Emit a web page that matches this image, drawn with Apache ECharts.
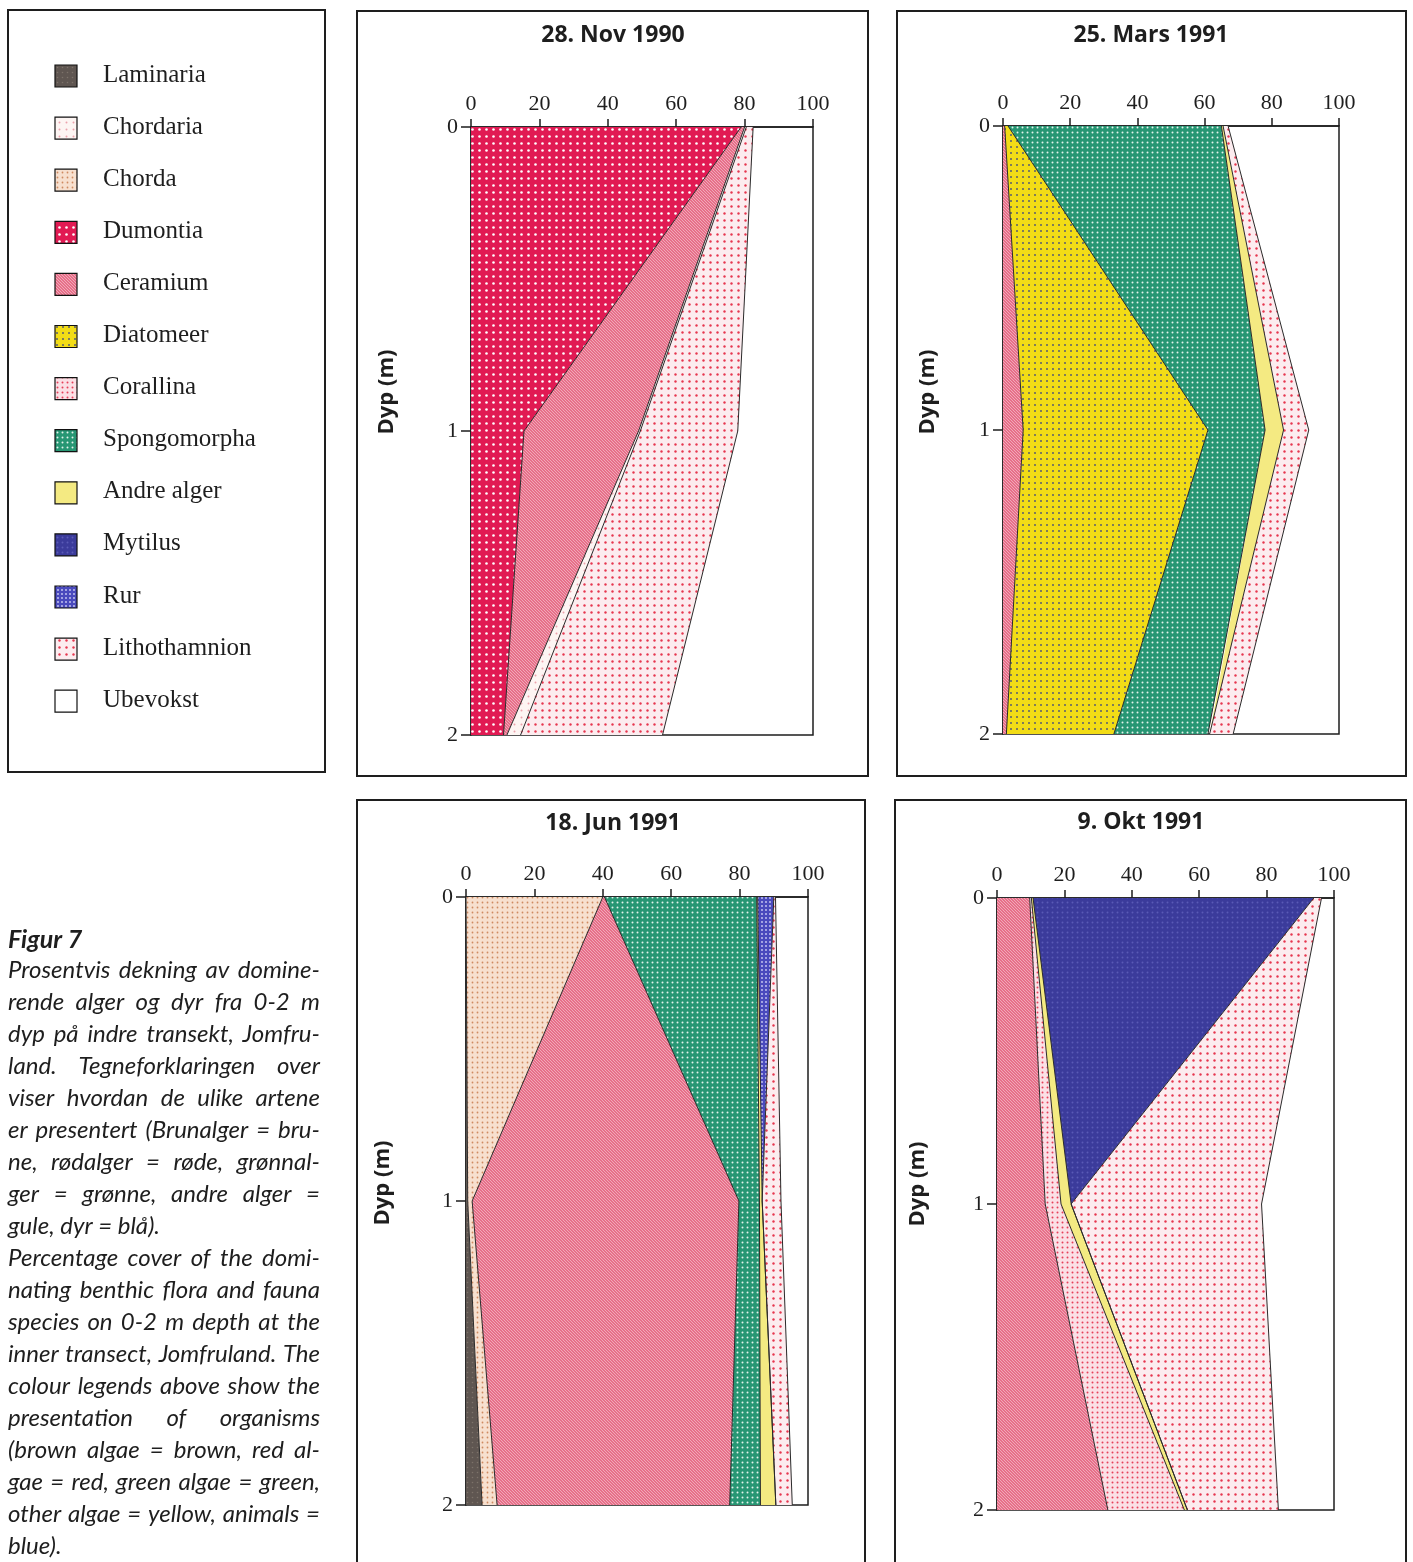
<!DOCTYPE html>
<html>
<head>
<meta charset="utf-8">
<title>Figur 7 - Jomfruland</title>
<script src="https://cdn.jsdelivr.net/npm/echarts@6/dist/echarts.min.js"></script>
<style>
  html, body { margin: 0; padding: 0; background: #fff; }
  #chart { width: 1413px; height: 1562px; }
</style>
</head>
<body>
<div id="chart"></div>
<script>
// ---- data ----
var depths = ['0', '1', '2'];           // dyp (m), y-akse
var panelTitles = ['28. Nov 1990', '25. Mars 1991', '18. Jun 1991', '9. Okt 1991'];

var species = ['Laminaria', 'Chordaria', 'Chorda', 'Dumontia', 'Ceramium', 'Diatomeer',
  'Corallina', 'Spongomorpha', 'Andre alger', 'Mytilus', 'Rur', 'Lithothamnion', 'Ubevokst'];

// dekning (%) per art ved 0, 1 og 2 m, stablet fra venstre
var novNames = ['Dumontia', 'Ceramium', 'Chordaria', 'Lithothamnion'];
var novCover = [[79, 15.5, 9.5], [1, 33.5, 1], [0.5, 0.5, 4], [2, 28.5, 41.5]];

var marNames = ['Ceramium', 'Diatomeer', 'Spongomorpha', 'Andre alger', 'Lithothamnion'];
var marCover = [[0.5, 6, 1], [1, 55, 32], [63.5, 17, 28], [0.5, 5.5, 0.5], [1.5, 7.5, 7]];

var junNames = ['Laminaria', 'Chorda', 'Ceramium', 'Spongomorpha', 'Andre alger', 'Rur', 'Lithothamnion'];
var junCover = [[0, 0.5, 4.7], [40, 1.3, 4.4], [0.5, 78, 68], [44.5, 6, 9], [0.3, 0.8, 4.5], [4.7, 0, 0], [0.5, 5.5, 4.8]];

var oktNames = ['Ceramium', 'Corallina', 'Andre alger', 'Mytilus', 'Lithothamnion'];
var oktCover = [[9.7, 14.3, 32.9], [0.5, 4.7, 22.7], [0.5, 3, 0.9], [83.3, 0, 0], [2.3, 56.5, 27]];

var captionNo = [
  'Prosentvis dekning av domine-',
  'rende alger og dyr fra 0-2 m',
  'dyp på indre transekt, Jomfru-',
  'land. Tegneforklaringen over',
  'viser hvordan de ulike artene',
  'er presentert (Brunalger = bru-',
  'ne, rødalger = røde, grønnal-',
  'ger = grønne, andre alger =',
  'gule, dyr = blå).'
];
var captionEn = [
  'Percentage cover of the domi-',
  'nating benthic flora and fauna',
  'species on 0-2 m depth at the',
  'inner transect, Jomfruland. The',
  'colour legends above show the',
  'presentation of organisms',
  '(brown algae = brown, red al-',
  'gae = red, green algae = green,',
  'other algae = yellow, animals =',
  'blue).'
];

// ---- fill patterns ----
var speciesStyle = {
  'Laminaria':     { bg: '#5f5651', dot: '#7d726a', step: 5, r: 0.8 },
  'Chordaria':     { bg: '#fdf5f3', dot: '#eba2ab', step: 7, r: 1 },
  'Chorda':        { bg: '#f7e0cf', dot: '#cf8a60', step: 5, r: 0.9 },
  'Dumontia':      { bg: '#e11a53', dot: '#ffffff', step: 7, r: 1.3 },
  'Ceramium':      { bg: '#e76f89', hatch: '#f3b9c5', step: 3 },
  'Diatomeer':     { bg: '#f2dc16', dot: '#575c70', step: 6, r: 1 },
  'Corallina':     { bg: '#fbe0e6', dot: '#e6405a', step: 5, r: 1 },
  'Spongomorpha':  { bg: '#279673', dot: '#e4f3ec', step: 5, r: 1 },
  'Andre alger':   { bg: '#f4ea82' },
  'Mytilus':       { bg: '#3b3b9b', dot: '#5a5ab6', step: 5, r: 1 },
  'Rur':           { bg: '#4a4abd', dot: '#cfcff5', step: 4, r: 0.9 },
  'Lithothamnion': { bg: '#fcecef', dot: '#e6374f', step: 7, r: 1.2 },
  'Ubevokst':      { bg: '#ffffff' }
};

function makeTile(st) {
  var s = st.step || 4;
  var c = document.createElement('canvas');
  c.width = s; c.height = s;
  var g = c.getContext('2d');
  g.fillStyle = st.bg;
  g.fillRect(0, 0, s, s);
  if (st.dot) {
    g.fillStyle = st.dot;
    g.beginPath();
    g.arc(s / 2, s / 2, st.r, 0, Math.PI * 2);
    g.fill();
  }
  if (st.hatch) {
    g.strokeStyle = st.hatch;
    g.lineWidth = 0.8;
    g.beginPath();
    g.moveTo(-1, -1); g.lineTo(s + 1, s + 1);
    g.moveTo(-1, s - 1); g.lineTo(1, s + 1);
    g.moveTo(s - 1, -1); g.lineTo(s + 1, 1);
    g.stroke();
  }
  return c;
}
var patterns = {};
species.forEach(function (n) {
  patterns[n] = { image: makeTile(speciesStyle[n]), repeat: 'repeat' };
});

// ---- layout ----
var grids = [
  { left: 471, top: 127, width: 342, height: 608 },
  { left: 1003, top: 126, width: 336, height: 608 },
  { left: 466, top: 897, width: 342, height: 608 },
  { left: 997, top: 898, width: 337, height: 612 }
];
var ink = '#1e1e1e';
var serif = '"Liberation Serif", "DejaVu Serif", serif';
var sans = '"Open Sans", "Noto Sans", sans-serif';
var capFamily = 'Lato, "Open Sans", sans-serif';

function panelSeries(names, cover, gi) {
  return names.map(function (name, k) {
    return {
      type: 'line',
      name: name,
      xAxisIndex: gi,
      yAxisIndex: gi,
      stack: 'panel' + gi,
      data: cover[k],
      symbol: 'none',
      silent: true,
      lineStyle: { color: '#2a2a2a', width: 1 },
      itemStyle: { color: speciesStyle[name].bg },
      areaStyle: { color: patterns[name], opacity: 1 }
    };
  });
}

var series = [].concat(
  panelSeries(novNames, novCover, 0),
  panelSeries(marNames, marCover, 1),
  panelSeries(junNames, junCover, 2),
  panelSeries(oktNames, oktCover, 3)
);

// ---- graphic: frames, titles, legend, caption ----
var graphic = [];
function frame(x, y, w, h) {
  graphic.push({ type: 'rect', shape: { x: x, y: y, width: w, height: h },
    style: { fill: 'none', stroke: ink, lineWidth: 2 }, silent: true });
}
frame(8, 10, 317, 762);
frame(357, 11, 511, 765);
frame(897, 11, 509, 765);
frame(357, 800, 508, 790);
frame(895, 800, 511, 790);

var titlePos = [[613, 35], [1151, 35], [613, 823], [1141, 822]];
panelTitles.forEach(function (t, i) {
  graphic.push({ type: 'text', x: titlePos[i][0], y: titlePos[i][1], silent: true,
    style: { text: t, fill: ink, font: 'bold 23px ' + sans,
      align: 'center', verticalAlign: 'middle', textAlign: 'center', textVerticalAlign: 'middle' } });
});

var dypPos = [[387, 392], [928, 392], [383, 1183], [918, 1184]];
dypPos.forEach(function (p) {
  graphic.push({ type: 'text', x: p[0], y: p[1], rotation: Math.PI / 2, silent: true,
    style: { text: 'Dyp (m)', fill: ink, font: 'bold 22px ' + sans,
      align: 'center', verticalAlign: 'middle', textAlign: 'center', textVerticalAlign: 'middle' } });
});

species.forEach(function (n, i) {
  var cy = 75 + i * 52.1;
  graphic.push({ type: 'rect', silent: true,
    shape: { x: 55, y: cy - 10, width: 22, height: 22 },
    style: { fill: patterns[n], stroke: '#111', lineWidth: 1.2 } });
  graphic.push({ type: 'text', x: 103, y: cy, silent: true,
    style: { text: n, fill: ink, font: '25px ' + serif,
      align: 'left', verticalAlign: 'middle', textAlign: 'left', textVerticalAlign: 'middle' } });
});

// caption, justified between capLeft and capRight
var capLeft = 8, capRight = 320;
var measure = document.createElement('canvas').getContext('2d');
var allLines = captionNo.concat(captionEn);
var capSize = 24;
function capFont(sz) { return 'italic ' + sz + 'px ' + capFamily; }
while (capSize > 16) {
  measure.font = capFont(capSize);
  var widest = 0;
  allLines.forEach(function (l) { widest = Math.max(widest, measure.measureText(l).width); });
  if (widest <= capRight - capLeft) break;
  capSize -= 0.5;
}
var capF = capFont(capSize);
function placeLine(line, y, justify) {
  measure.font = capF;
  var words = line.split(' ');
  var widths = words.map(function (w) { return measure.measureText(w).width; });
  var total = widths.reduce(function (a, b) { return a + b; }, 0);
  var gap = (justify && words.length > 1) ? (capRight - capLeft - total) / (words.length - 1)
    : measure.measureText(' ').width;
  var x = capLeft;
  words.forEach(function (w, i) {
    graphic.push({ type: 'text', x: x, y: y, silent: true,
      style: { text: w, fill: ink, font: capF, verticalAlign: 'middle', textVerticalAlign: 'middle' } });
    x += widths[i] + gap;
  });
}
graphic.push({ type: 'text', x: capLeft, y: 940, silent: true,
  style: { text: 'Figur 7', fill: ink, font: 'italic bold ' + (capSize + 1) + 'px ' + capFamily,
    verticalAlign: 'middle', textVerticalAlign: 'middle' } });
var lineY = 970;
[captionNo, captionEn].forEach(function (para) {
  para.forEach(function (l, i) {
    placeLine(l, lineY, i < para.length - 1);
    lineY += 32;
  });
});

// ---- axes ----
var xAxes = grids.map(function (g, i) {
  return {
    gridIndex: i, type: 'value', position: 'top', min: 0, max: 100, interval: 20,
    axisLine: { show: true, onZero: false, lineStyle: { color: ink, width: 1.5 } },
    axisTick: { show: true, length: 8, lineStyle: { color: ink, width: 1.5 } },
    axisLabel: { show: true, margin: 12, showMinLabel: true, showMaxLabel: true,
      fontFamily: serif, fontSize: 22, color: ink },
    splitLine: { show: false }
  };
});
var yAxes = grids.map(function (g, i) {
  return {
    gridIndex: i, type: 'category', data: depths, inverse: true, boundaryGap: false,
    axisLine: { show: true, onZero: false, lineStyle: { color: ink, width: 1.5 } },
    axisTick: { show: true, length: 10, lineStyle: { color: ink, width: 1.5 } },
    axisLabel: { show: true, margin: 13, fontFamily: serif, fontSize: 22, color: ink },
    splitLine: { show: false }
  };
});

var chart = echarts.init(document.getElementById('chart'), null, { renderer: 'canvas' });
chart.setOption({
  animation: false,
  backgroundColor: '#ffffff',
  grid: grids.map(function (g) {
    return { left: g.left, top: g.top, width: g.width, height: g.height,
      containLabel: false, outerBoundsMode: 'none',
      show: true, borderColor: ink, borderWidth: 1.5, backgroundColor: 'transparent' };
  }),
  xAxis: xAxes,
  yAxis: yAxes,
  series: series,
  graphic: graphic
});
</script>
</body>
</html>
